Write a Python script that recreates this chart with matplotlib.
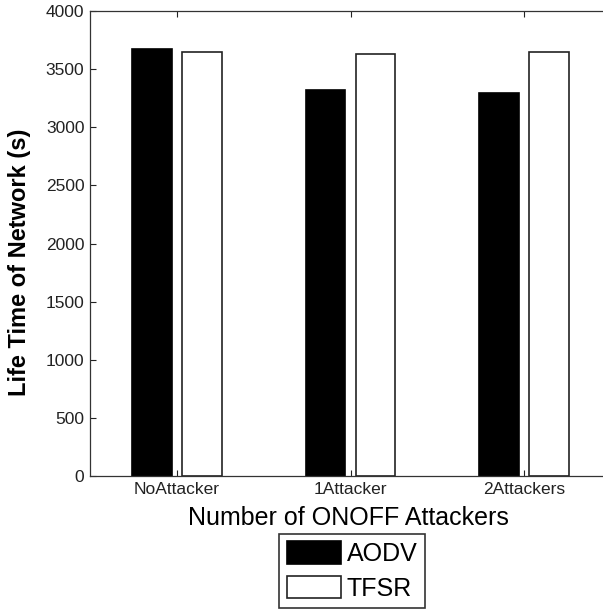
import matplotlib
matplotlib.use("Agg")
import matplotlib.pyplot as plt
import numpy as np

categories = ["NoAttacker", "1Attacker", "2Attackers"]
aodv = [3673, 3318, 3297]
tfsr = [3647, 3627, 3647]
yticks = [0, 500, 1000, 1500, 2000, 2500, 3000, 3500, 4000]

plt.rcParams['font.family'] = ['Liberation Sans', 'DejaVu Sans']

W, H = 603, 609
fig = plt.figure(figsize=(W / 100, H / 100), dpi=100)
left, right, top, bottom = 90, 611, 11, 476
ax = fig.add_axes([left / W, 1 - bottom / H, (right - left) / W, (bottom - top) / H])

x = np.arange(1, len(categories) + 1)
off, bw = 0.144, 0.23
ax.bar(x - off, aodv, bw, color='black', edgecolor='black', linewidth=1.2, label='AODV')
ax.bar(x + off, tfsr, bw, color='white', edgecolor='#222222', linewidth=1.2, label='TFSR')

ax.set_xlim(0.5, 3.5)
ax.set_ylim(0, 4000)
ax.set_xticks(x)
ax.set_xticklabels(categories)
ax.set_yticks(yticks)
ax.tick_params(direction='in', top=True, right=True, length=4, width=0.8,
               labelsize=12.5, colors='#222222', pad=4)
for s in ax.spines.values():
    s.set_color('#333333')
    s.set_linewidth(0.9)

ax.set_ylabel("Life Time of Network (s)", fontsize=17, fontweight='bold')
ax.yaxis.set_label_coords(-0.113, 0.46)
fig.text(348 / W, 1 - 518 / H, "Number of ONOFF Attackers", fontsize=18,
         ha='center', va='center')

leg = fig.legend(loc='center', bbox_to_anchor=(352 / W, 1 - 571 / H), fontsize=18,
                 frameon=True, fancybox=False, edgecolor='black', handlelength=2.16,
                 handleheight=1.0, handletextpad=0.25, borderpad=0.3, labelspacing=0.4,
                 borderaxespad=0)
leg.get_frame().set_linewidth(1.2)

fig.savefig("out.png", dpi=100)
